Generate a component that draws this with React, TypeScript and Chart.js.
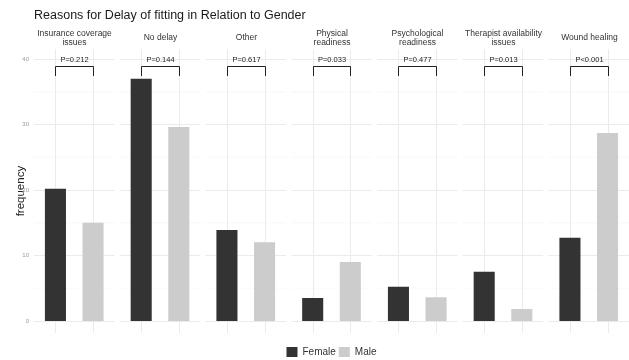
import React, { useEffect, useRef } from "react";
import { Chart, registerables } from "chart.js";

Chart.register(...registerables);
Chart.defaults.font.family = "'Liberation Sans', Arial, sans-serif";

// Facet titles (one facet per reason), "\n" marks a wrapped line
const reasons = [
  "Insurance coverage\nissues",
  "No delay",
  "Other",
  "Physical\nreadiness",
  "Psychological\nreadiness",
  "Therapist availability\nissues",
  "Wound healing",
];
const genders = ["Female", "Male"];
const femaleValues = [20.2, 37.0, 13.9, 3.5, 5.2, 7.5, 12.7];
const maleValues = [15.0, 29.6, 12.0, 9.0, 3.6, 1.8, 28.7];
const pValues = ["P=0.212", "P=0.144", "P=0.617", "P=0.033", "P=0.477", "P=0.013", "P<0.001"];
const yTicks = [0, 10, 20, 30, 40];
const yMinorTicks = [5, 15, 25, 35];

const genderColors = ["#333333", "#cccccc"];

// Facet layout on the linear x axis: Female sits at slot 1, Male at slot 2
const FACET_STEP = 2.28;
const FACET_PAD = 0.57;
const facetX = (i: number, slot: number) => i * FACET_STEP + slot;

// Significance bracket levels (y units)
const BRACKET_TEXT = 39.9;
const BRACKET_TOP = 38.9;
const BRACKET_LEG = 37.4;

const half = (v: number) => Math.round(v) + 0.5;

const facetPlugin = {
  id: "facetDecor",
  beforeDatasetsDraw(chart: any) {
    const { ctx, chartArea } = chart;
    const x = chart.scales.x;
    const y = chart.scales.y;
    ctx.save();
    reasons.forEach((_, i) => {
      const left = x.getPixelForValue(facetX(i, 1) - FACET_PAD);
      const right = x.getPixelForValue(facetX(i, 2) + FACET_PAD);
      ctx.lineWidth = 0.6;
      ctx.strokeStyle = "#f3f3f3";
      yMinorTicks.forEach((v) => {
        const py = y.getPixelForValue(v);
        ctx.beginPath();
        ctx.moveTo(left, py);
        ctx.lineTo(right, py);
        ctx.stroke();
      });
      ctx.lineWidth = 1;
      ctx.strokeStyle = "#ebebeb";
      yTicks.forEach((v) => {
        const py = half(y.getPixelForValue(v));
        ctx.beginPath();
        ctx.moveTo(left, py);
        ctx.lineTo(right, py);
        ctx.stroke();
      });
      [1, 2].forEach((slot) => {
        const px = half(x.getPixelForValue(facetX(i, slot)));
        ctx.beginPath();
        ctx.moveTo(px, chartArea.top);
        ctx.lineTo(px, chartArea.bottom);
        ctx.stroke();
      });
    });
    ctx.restore();
  },
  afterDatasetsDraw(chart: any) {
    const { ctx, chartArea } = chart;
    const x = chart.scales.x;
    const y = chart.scales.y;
    ctx.save();
    reasons.forEach((label, i) => {
      const fx = half(x.getPixelForValue(facetX(i, 1)));
      const mx = half(x.getPixelForValue(facetX(i, 2)));
      const cx = (fx + mx) / 2;

      // bracket
      const top = half(y.getPixelForValue(BRACKET_TOP));
      const leg = y.getPixelForValue(BRACKET_LEG);
      ctx.strokeStyle = "#222222";
      ctx.lineWidth = 1;
      ctx.beginPath();
      ctx.moveTo(fx, leg);
      ctx.lineTo(fx, top);
      ctx.lineTo(mx, top);
      ctx.lineTo(mx, leg);
      ctx.stroke();

      // p-value
      ctx.fillStyle = "#222222";
      ctx.font = "7.5px 'Liberation Sans', Arial, sans-serif";
      ctx.textAlign = "center";
      ctx.textBaseline = "middle";
      ctx.fillText(pValues[i], cx, y.getPixelForValue(BRACKET_TEXT));

      // facet strip title
      const lines = label.split("\n");
      ctx.fillStyle = "#333333";
      ctx.font = "8.5px 'Liberation Sans', Arial, sans-serif";
      const blockCenter = chartArea.top - 11.2;
      lines.forEach((ln, k) => {
        ctx.fillText(ln, cx, blockCenter + (k - (lines.length - 1) / 2) * 9);
      });
    });
    ctx.restore();
  },
};

export default function App() {
  const canvasRef = useRef<HTMLCanvasElement>(null);

  useEffect(() => {
    document.body.style.margin = "0";
    const canvas = canvasRef.current;
    if (!canvas) return;

    const series = [femaleValues, maleValues];
    const chart = new Chart(canvas, {
      type: "bar",
      data: {
        datasets: genders.map((g, gi) => ({
          label: g,
          data: series[gi].map((v, i) => ({ x: facetX(i, gi + 1), y: v })),
          backgroundColor: genderColors[gi],
          borderWidth: 0,
        })),
      },
      options: {
        animation: false,
        responsive: false,
        devicePixelRatio: 1,
        datasets: {
          bar: { grouped: false, categoryPercentage: 1, barPercentage: 0.56 },
        },
        layout: { padding: { left: 0, right: -2, top: 0, bottom: -7 } },
        scales: {
          x: {
            type: "linear",
            offset: false,
            min: facetX(0, 1) - FACET_PAD,
            max: facetX(reasons.length - 1, 2) + FACET_PAD,
            ticks: { display: false },
            grid: { display: false, drawTicks: false },
            border: { display: false },
            afterFit: (s: any) => {
              s.height = 11;
            },
          },
          y: {
            type: "linear",
            min: -1.85,
            max: 41.5,
            afterBuildTicks: (s: any) => {
              s.ticks = yTicks.map((v) => ({ value: v }));
            },
            ticks: { font: { size: 6 }, color: "#999999", padding: 5 },
            grid: { display: false, drawTicks: false },
            border: { display: false },
            title: {
              display: true,
              text: "frequency",
              color: "#222222",
              font: { size: 11.5 },
              padding: { top: 14, bottom: 0 },
            },
            afterFit: (s: any) => {
              s.width = 34;
            },
          },
        },
        plugins: {
          title: {
            display: true,
            text: "Reasons for Delay of fitting in Relation to Gender",
            align: "start",
            fullSize: false,
            color: "#1a1a1a",
            font: { size: 12.5, weight: "normal" },
            padding: { top: 8, bottom: 26.2 },
          },
          legend: {
            display: true,
            position: "bottom",
            fullSize: false,
            labels: {
              boxWidth: 11,
              boxHeight: 10,
              padding: 3,
              color: "#333333",
              font: { size: 10 },
            },
          },
          tooltip: { enabled: false },
        },
      },
      plugins: [facetPlugin],
    } as any);

    return () => chart.destroy();
  }, []);

  return (
    <div style={{ width: 629, height: 360 }}>
      <canvas ref={canvasRef} width={629} height={360} style={{ display: "block" }} />
    </div>
  );
}
